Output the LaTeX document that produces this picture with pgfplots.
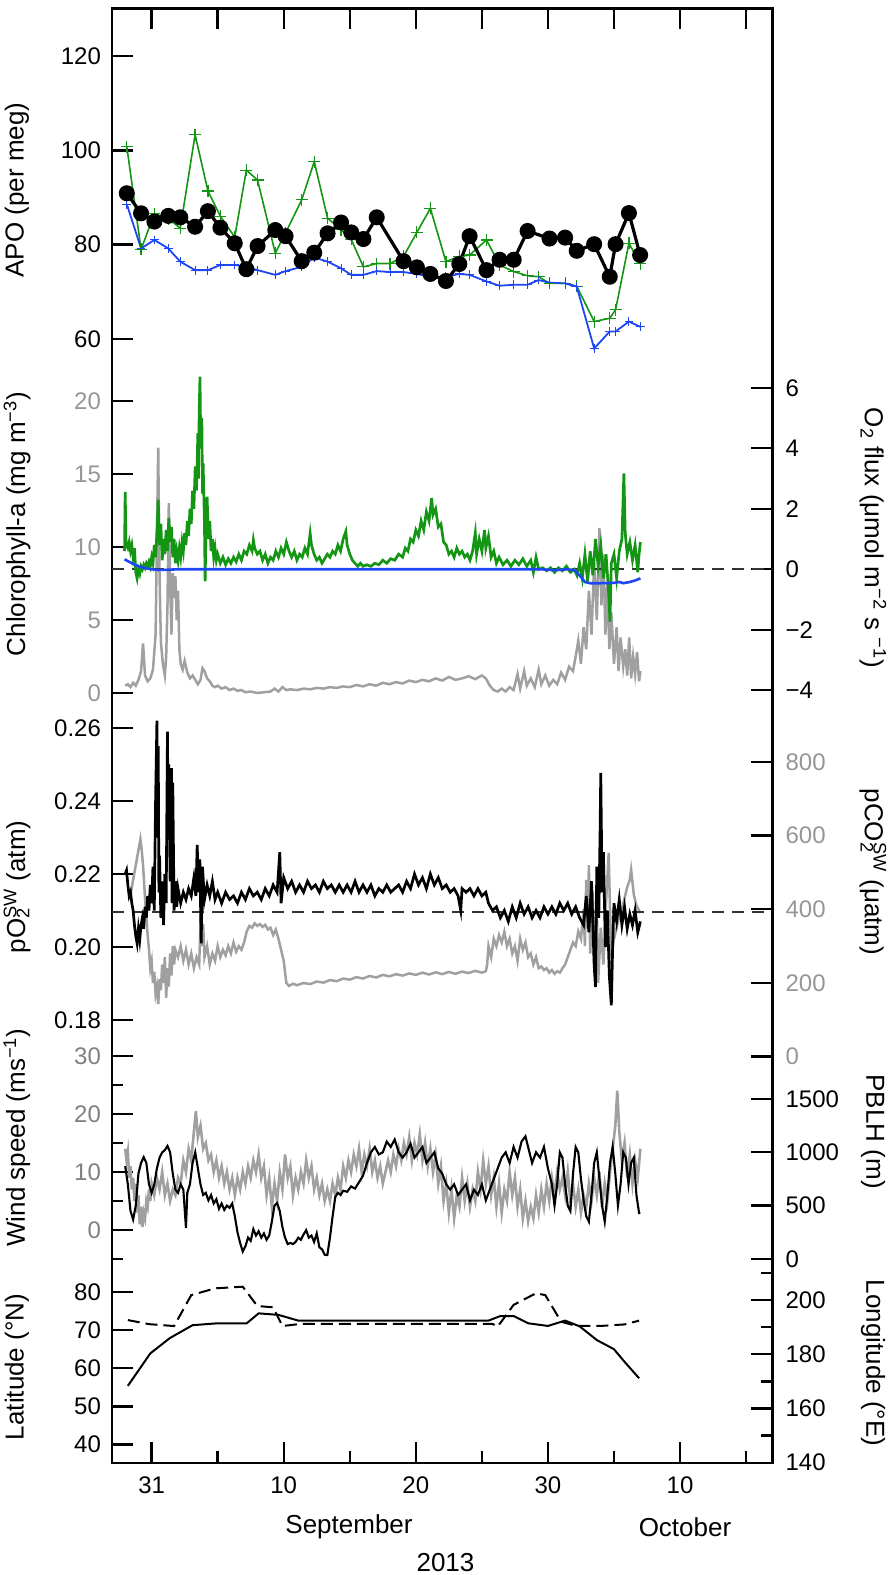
\documentclass[border=0pt]{standalone}
\usepackage{fontspec}
\setmainfont{Liberation Sans}
\usepackage{pgfplots}
\pgfplotsset{compat=1.18}
\definecolor{apogreen}{RGB}{20,150,20}
\definecolor{apoblue}{RGB}{30,70,245}
\definecolor{dgray}{RGB}{160,160,160}
\definecolor{tgray}{RGB}{150,150,150}
\newcommand\lbl{\fontsize{13}{15}\selectfont}
\newcommand\tkl{\fontsize{12}{14}\selectfont}
\pgfplotsset{
  panel/.style={scale only axis, width=330.25pt, xmin=-3, xmax=47, hide x axis, anchor=south west,
    axis line style={line width=1pt},
    tick align=inside, major tick length=10.5pt, minor tick length=5.5pt,
    tick style={line width=1.2pt, black},
    yticklabel style={font=\tkl}},
  lpanel/.style={panel, ytick pos=left, yticklabel pos=left, yticklabel style={xshift=-2pt}},
  rpanel/.style={panel, ytick pos=right, yticklabel pos=right, yticklabel style={xshift=3pt}},
}
\begin{document}
\begin{tikzpicture}
\useasboundingbox (0,0) rectangle (445.5pt,787.5pt);
% frame
\begin{axis}[scale only axis, width=330.25pt, height=727.25pt, at={(56pt,56pt)}, anchor=south west,
  xmin=-3, xmax=47, ymin=0, ymax=1, ytick=\empty,
  xtick={0,10,20,30,40}, minor xtick={5,15,25,35,45}, xticklabels={31,10,20,30,10},
  xtick pos=left, tick align=inside, major tick length=10.5pt, minor tick length=6pt,
  tick style={line width=1.2pt,black}, axis line style={line width=1.1pt},
  xticklabel style={font=\tkl, yshift=-3.5pt}]
\end{axis}
\begin{axis}[scale only axis, width=330.25pt, height=727.25pt, at={(56pt,56pt)}, anchor=south west,
  xmin=-3, xmax=47, ymin=0, ymax=1, ytick=\empty,
  xtick={0,5,...,45}, xticklabels={}, xtick pos=right, tick align=inside, major tick length=10.5pt,
  tick style={line width=1.2pt,black}, axis line style={line width=1.1pt}]
\end{axis}
% ---------- Panel 1: APO
\begin{axis}[lpanel, at={(56pt,608.55pt)}, height=174.54pt, ymin=56, ymax=130,
  ytick={60,80,100,120}, yticklabels={60,80,100,120}]
\addplot[apogreen, line width=0.8pt, mark=+, mark size=3pt, mark options={line width=0.6pt}] coordinates {
(-1.88,100.8)(-0.80,79.0)(0.21,86.6)(1.26,85.5)(2.17,83.5)(3.29,103.3)(4.26,91.4)(5.21,86)(6.29,81.6)(7.17,95.8)(8.02,93.7)(9.36,78.2)(10.14,82.5)(11.36,89.5)(12.31,97.6)(13.32,85.6)(14.34,83.2)(15.11,81.1)(16.03,75.3)(17.04,76.0)(18.05,76.0)(19.07,77.5)(20.08,82.6)(21.10,87.7)(22.28,76.4)(23.29,77.5)(24.07,77.8)(25.35,81.0)(26.34,75.7)(27.41,74.3)(28.46,73.4)(29.30,73.2)(30.12,71.8)(31.30,71.8)(32.18,71.2)(33.50,63.7)(34.68,64.4)(35.12,66.2)(36.13,80.3)(36.98,76.0)};
\addplot[apoblue, line width=0.9pt, mark=+, mark size=2.2pt, mark options={line width=0.5pt}] coordinates {
(-1.88,88.6)(-0.80,79.2)(0.21,81.0)(1.26,79.2)(2.17,76.4)(3.29,74.6)(4.26,74.6)(5.21,75.7)(6.29,75.7)(7.17,75.3)(8.02,74.6)(9.36,73.6)(10.14,74.4)(11.36,75.3)(12.31,77.3)(13.32,76.4)(14.34,75.0)(15.11,73.6)(16.03,73.6)(17.04,74.4)(18.05,74.2)(19.07,74.2)(20.08,73.8)(21.10,73.2)(22.28,73.2)(23.29,73.8)(24.07,73.6)(25.35,72.2)(26.34,71.3)(27.41,71.5)(28.46,71.5)(29.30,72.5)(30.12,71.96)(31.30,71.8)(32.18,71.1)(33.50,58.0)(34.68,61.6)(35.12,61.6)(36.13,63.7)(36.98,62.6)};
\addplot[black, line width=1.6pt, mark=*, mark size=3.2pt] coordinates {
(-1.88,90.9)(-0.80,86.65)(0.21,84.9)(1.26,86.1)(2.17,85.8)(3.29,83.8)(4.26,87.1)(5.21,83.6)(6.29,80.3)(7.17,74.8)(8.02,79.7)(9.36,83.1)(10.14,81.8)(11.36,76.5)(12.31,78.3)(13.32,82.4)(14.34,84.7)(15.11,82.6)(16.03,81.2)(17.04,85.8)(19.07,76.5)(20.08,75.2)(21.10,73.8)(22.28,72.3)(23.29,75.9)(24.07,81.8)(25.35,74.6)(26.34,76.8)(27.41,76.8)(28.46,82.9)(30.12,81.3)(31.30,81.5)(32.18,78.7)(33.50,80.1)(34.68,73.2)(35.12,80.1)(36.13,86.7)(36.98,77.8)};
\end{axis}
% ---------- Panel 2: Chlorophyll (left)
\begin{axis}[lpanel, at={(56pt,436.62pt)}, height=164.98pt, ymin=-0.6, ymax=22,
  ytick={0,5,10,15,20}, yticklabels={0,5,10,15,20}, yticklabel style={text=tgray}]
\addplot[dgray, line width=1.25pt] coordinates {
(-2.0,0.5)(-1.8,0.6)(-1.6,0.4)(-1.4,0.7)(-1.2,0.5)(-1.0,0.9)(-0.8,1.5)(-0.65,3.4)(-0.5,1.2)(-0.3,0.8)(-0.1,1.0)(0.1,1.6)(0.3,4.0)(0.42,12.0)(0.5,16.8)(0.58,9.0)(0.7,3.5)(0.85,2.0)(1.0,1.2)(1.1,2.5)(1.2,6.0)(1.3,13.0)(1.4,7.5)(1.5,4.0)(1.6,8.2)(1.7,6.5)(1.8,8.0)(1.9,5.0)(2.0,7.0)(2.1,3.0)(2.2,2.0)(2.35,1.6)(2.5,2.2)(2.7,1.4)(2.9,1.0)(3.1,1.2)(3.3,0.9)(3.5,0.6)(3.7,0.9)(3.85,1.7)(4.0,1.5)(4.2,1.0)(4.4,0.8)(4.6,0.5)(4.8,0.4)(5.0,0.5)(5.3,0.3)(5.6,0.4)(5.9,0.2)(6.2,0.3)(6.5,0.15)(6.8,0.2)(7.1,0.05)(7.5,0.1)(8.0,0.0)(8.5,0.05)(9.0,0.1)(9.3,0.3)(9.6,0.1)(9.9,0.4)(10.2,0.2)(10.5,0.25)(11,0.2)(11.5,0.3)(12,0.25)(12.5,0.35)(13,0.3)(13.5,0.4)(14,0.35)(14.5,0.45)(15,0.4)(15.5,0.55)(16,0.45)(16.5,0.6)(17,0.5)(17.5,0.7)(18,0.6)(18.5,0.75)(19,0.65)(19.5,0.85)(20,0.75)(20.5,0.9)(21,0.8)(21.5,1.0)(22,0.85)(22.5,1.1)(23,0.9)(23.5,1.0)(24,1.15)(24.5,0.95)(25,1.2)(25.3,1.0)(25.6,0.5)(25.9,0.2)(26.2,0.1)(26.5,0.3)(26.8,0.1)(27.1,0.4)(27.4,0.2)(27.7,1.3)(27.9,0.3)(28.2,1.5)(28.4,0.5)(28.7,1.0)(29.0,0.4)(29.3,1.6)(29.5,0.6)(29.8,1.2)(30.1,0.5)(30.4,0.9)(30.7,0.6)(31.0,1.4)(31.3,0.9)(31.6,1.8)(31.9,1.5)(32.1,2.5)(32.3,3.6)(32.5,2.0)(32.7,4.5)(32.9,3.0)(33.1,7.0)(33.3,4.0)(33.5,9.0)(33.7,5.0)(33.9,11.3)(34.05,6.0)(34.2,9.5)(34.35,4.0)(34.5,7.5)(34.65,3.0)(34.8,5.5)(35.0,2.0)(35.2,4.5)(35.35,1.5)(35.5,3.8)(35.7,1.8)(35.85,3.0)(36.0,1.2)(36.15,3.8)(36.3,1.0)(36.45,2.5)(36.6,1.3)(36.75,2.8)(36.9,0.8)(37.0,1.5)};
\end{axis}
% ---------- Panel 2: O2 flux (right)
\begin{axis}[rpanel, at={(56pt,433.275pt)}, height=175.45pt, ymin=-4.6, ymax=7,
  ytick={-4,-2,0,2,4,6}, yticklabels={−4,−2,0,2,4,6}]
\addplot[black!80, line width=1pt, dash pattern=on 6pt off 4pt] coordinates {(-3,0)(47,0)};
\addplot[apogreen, line width=1.35pt] coordinates {
(-2.05,0.6)(-2.0,2.56)(-1.95,1.0)(-1.9,0.8)(-1.8,0.7)(-1.7,0.9)(-1.6,0.6)(-1.5,0.8)(-1.4,0.4)(-1.3,0.7)(-1.2,-0.1)(-1.1,-0.3)(-1.0,0.0)(-0.9,-0.15)(-0.8,0.1)(-0.7,0.0)(-0.6,0.15)(-0.5,0.05)(-0.4,0.2)(-0.3,0.1)(-0.2,0.25)(-0.1,0.1)(0.0,0.4)(0.1,0.2)(0.2,0.8)(0.3,0.4)(0.4,1.2)(0.5,2.3)(0.6,0.8)(0.7,1.5)(0.8,0.3)(0.9,1.0)(1.0,0.5)(1.1,1.3)(1.2,0.6)(1.3,1.7)(1.4,0.9)(1.5,1.4)(1.6,0.4)(1.7,1.0)(1.8,0.2)(1.9,0.6)(2.0,0.3)(2.1,0.7)(2.2,0.4)(2.3,0.9)(2.4,0.6)(2.5,1.2)(2.6,0.8)(2.7,1.6)(2.8,1.1)(2.9,2.0)(3.0,1.5)(3.1,2.6)(3.2,2.0)(3.3,3.4)(3.4,2.6)(3.5,4.5)(3.55,3.0)(3.6,5.2)(3.66,6.37)(3.72,4.0)(3.8,5.0)(3.85,2.5)(3.9,3.5)(4.0,1.5)(4.05,-0.4)(4.1,1.0)(4.2,2.4)(4.3,1.0)(4.4,1.6)(4.5,0.6)(4.6,1.0)(4.7,0.4)(4.8,0.7)(4.9,0.3)(5.0,0.5)(5.2,0.2)(5.4,0.4)(5.6,0.15)(5.8,0.35)(6.0,0.2)(6.2,0.4)(6.4,0.25)(6.6,0.5)(6.8,0.3)(7.0,0.6)(7.2,0.5)(7.4,0.8)(7.6,0.6)(7.7,0.97)(7.8,0.7)(8.0,0.5)(8.2,0.6)(8.4,0.3)(8.6,0.5)(8.8,0.2)(9.0,0.4)(9.2,0.3)(9.4,0.6)(9.6,0.4)(9.8,0.7)(10.0,0.5)(10.2,0.9)(10.4,0.6)(10.6,0.4)(10.8,0.6)(11.0,0.3)(11.2,0.5)(11.4,0.4)(11.6,0.7)(11.8,0.5)(12.0,1.19)(12.1,0.8)(12.3,0.5)(12.5,0.3)(12.7,0.4)(12.9,0.2)(13.1,0.35)(13.3,0.5)(13.5,0.4)(13.7,0.6)(13.9,0.5)(14.1,0.8)(14.3,0.6)(14.5,1.0)(14.7,1.25)(14.8,0.8)(15.0,0.5)(15.2,0.3)(15.4,0.2)(15.6,0.1)(15.8,0.2)(16.0,0.1)(16.3,0.15)(16.6,0.1)(16.9,0.2)(17.2,0.15)(17.5,0.3)(17.8,0.2)(18.1,0.35)(18.4,0.3)(18.7,0.5)(19.0,0.4)(19.2,0.7)(19.4,0.6)(19.6,1.0)(19.8,0.9)(20.0,1.3)(20.2,1.1)(20.4,1.6)(20.6,1.3)(20.8,1.9)(21.0,1.6)(21.2,2.36)(21.3,1.8)(21.5,2.0)(21.7,1.4)(21.9,1.5)(22.1,0.9)(22.3,0.8)(22.5,0.5)(22.7,0.6)(22.9,0.4)(23.1,0.7)(23.3,0.5)(23.5,0.6)(23.7,0.4)(23.9,0.5)(24.1,0.3)(24.3,0.6)(24.5,1.2)(24.6,0.5)(24.8,1.0)(25.0,0.6)(25.2,1.3)(25.3,0.7)(25.5,1.1)(25.7,0.4)(25.9,0.6)(26.1,0.2)(26.3,0.4)(26.6,0.15)(26.9,0.3)(27.2,0.1)(27.5,0.3)(27.8,0.15)(28.1,0.35)(28.4,0.1)(28.7,0.3)(28.9,-0.1)(29.1,0.4)(29.3,0.0)(29.6,0.05)(29.9,-0.05)(30.2,0.05)(30.5,-0.1)(30.8,0.05)(31.1,-0.05)(31.4,0.1)(31.7,-0.1)(32.0,0.0)(32.2,-0.2)(32.4,0.2)(32.6,-0.3)(32.8,0.5)(33.0,-0.4)(33.2,0.6)(33.4,-0.2)(33.6,1.0)(33.8,0.1)(34.0,0.8)(34.2,-0.3)(34.4,0.5)(34.6,-0.8)(34.7,-1.73)(34.8,0.2)(35.0,0.5)(35.2,-0.3)(35.4,0.6)(35.6,1.0)(35.75,3.17)(35.85,1.2)(36.0,0.5)(36.2,0.9)(36.4,0.3)(36.6,0.8)(36.8,-0.1)(36.9,0.5)(37.0,0.9)};
\addplot[apoblue, line width=1.3pt] coordinates {
(-2.05,0.33)(-1.5,0.2)(-1.0,0.1)(-0.5,0.04)(0.0,0.0)(0.5,-0.02)(1.0,-0.02)(2.0,0.0)(10,0.0)(20,0.0)(29.5,0.0)(30.5,-0.03)(31.5,0.0)(32.0,-0.03)(32.4,-0.2)(32.8,-0.42)(33.2,-0.46)(34,-0.46)(35,-0.45)(35.4,-0.42)(35.7,-0.46)(36.2,-0.42)(36.6,-0.37)(37.0,-0.3)};
\end{axis}
% ---------- Panel 3: pCO2 (right)
\begin{axis}[rpanel, at={(56pt,255.465pt)}, height=162.14pt, ymin=-20, ymax=860,
  ytick={0,200,400,600,800}, yticklabels={0,200,400,600,800}, yticklabel style={text=tgray}]
\addplot[dgray, line width=1.25pt] coordinates {
(-1.6,440)(-1.4,480)(-1.2,520)(-1.0,560)(-0.85,590)(-0.75,560)(-0.65,520)(-0.5,430)(-0.4,380)(-0.3,330)(-0.2,290)(-0.1,240)(0.0,260)(0.1,200)(0.2,230)(0.3,170)(0.4,190)(0.5,143)(0.6,210)(0.7,180)(0.8,250)(0.9,200)(1.0,270)(1.1,160)(1.2,240)(1.3,190)(1.4,280)(1.5,220)(1.6,300)(1.7,250)(1.8,290)(2.0,270)(2.2,300)(2.4,260)(2.6,290)(2.8,250)(3.0,280)(3.2,240)(3.4,270)(3.6,250)(3.75,420)(3.8,300)(3.9,360)(4.0,270)(4.2,300)(4.4,250)(4.6,280)(4.8,260)(5.0,300)(5.2,270)(5.4,290)(5.6,275)(5.8,300)(6.0,280)(6.2,310)(6.4,285)(6.6,300)(6.8,290)(7.0,310)(7.2,340)(7.4,355)(7.6,350)(7.8,362)(8.0,355)(8.2,360)(8.4,352)(8.6,358)(8.8,345)(9.0,350)(9.2,330)(9.4,345)(9.6,320)(9.8,290)(10.0,260)(10.1,230)(10.2,200)(10.4,192)(10.7,198)(11,194)(11.5,200)(12,197)(12.5,204)(13,201)(13.5,208)(14,205)(14.5,212)(15,209)(15.5,216)(16,212)(16.5,219)(17,215)(17.5,222)(18,218)(18.5,224)(19,220)(19.5,226)(20,222)(20.5,228)(21,223)(21.5,229)(22,224)(22.5,230)(23,225)(23.5,231)(24,227)(24.5,233)(25,228)(25.3,232)(25.4,250)(25.5,300)(25.7,270)(25.9,320)(26.1,300)(26.3,330)(26.5,310)(26.7,339)(26.9,300)(27.1,320)(27.3,280)(27.5,300)(27.7,260)(27.9,320)(28.1,290)(28.3,310)(28.5,270)(28.7,280)(28.9,250)(29.1,270)(29.3,240)(29.5,245)(29.7,235)(29.9,240)(30.1,228)(30.3,235)(30.5,225)(30.7,232)(30.9,228)(31.1,240)(31.3,250)(31.5,270)(31.7,290)(31.9,310)(32.1,300)(32.3,340)(32.5,320)(32.7,400)(32.8,300)(32.9,480)(33.0,350)(33.1,520)(33.2,280)(33.4,450)(33.5,250)(33.7,400)(33.8,200)(34.0,350)(34.2,250)(34.4,420)(34.6,553)(34.7,400)(34.8,280)(35.0,320)(35.2,350)(35.4,380)(35.6,400)(35.8,430)(36.0,460)(36.2,480)(36.3,507)(36.5,440)(36.7,410)(37.0,390)};
\end{axis}
% ---------- Panel 3: pO2 (left)
\begin{axis}[lpanel, at={(56pt,268.375pt)}, height=166.075pt, ymin=0.175, ymax=0.266,
  ytick={0.18,0.20,0.22,0.24,0.26}, yticklabels={0.18,0.20,0.22,0.24,0.26}]
\addplot[black!80, line width=1pt, dash pattern=on 6pt off 4pt] coordinates {(-3,0.2095)(47,0.2095)};
\addplot[black, line width=1.35pt] coordinates {
(-2.0,0.220)(-1.9,0.221)(-1.8,0.217)(-1.7,0.214)(-1.6,0.215)(-1.5,0.212)(-1.4,0.210)(-1.3,0.206)(-1.2,0.203)(-1.1,0.201)(-1.0,0.205)(-0.9,0.202)(-0.8,0.206)(-0.7,0.208)(-0.6,0.205)(-0.5,0.211)(-0.4,0.208)(-0.3,0.214)(-0.2,0.210)(-0.1,0.217)(0.0,0.212)(0.1,0.222)(0.2,0.210)(0.3,0.240)(0.4,0.262)(0.45,0.230)(0.5,0.255)(0.55,0.215)(0.6,0.225)(0.7,0.208)(0.8,0.218)(0.9,0.206)(1.0,0.220)(1.1,0.212)(1.2,0.259)(1.25,0.230)(1.3,0.250)(1.4,0.218)(1.5,0.249)(1.55,0.212)(1.6,0.245)(1.7,0.210)(1.8,0.218)(1.9,0.211)(2.0,0.216)(2.2,0.212)(2.4,0.215)(2.6,0.213)(2.8,0.216)(3.0,0.214)(3.2,0.219)(3.35,0.214)(3.45,0.228)(3.55,0.215)(3.65,0.224)(3.75,0.201)(3.85,0.222)(4.0,0.213)(4.2,0.217)(4.4,0.214)(4.6,0.218)(4.8,0.213)(5.0,0.215)(5.3,0.212)(5.6,0.215)(5.9,0.213)(6.2,0.214)(6.5,0.212)(6.8,0.215)(7.1,0.213)(7.4,0.216)(7.7,0.214)(8.0,0.215)(8.3,0.213)(8.6,0.216)(8.9,0.214)(9.2,0.217)(9.5,0.215)(9.7,0.226)(9.8,0.212)(10.0,0.219)(10.3,0.216)(10.6,0.218)(10.9,0.215)(11.2,0.217)(11.5,0.215)(11.8,0.218)(12.1,0.216)(12.4,0.217)(12.7,0.215)(13.0,0.218)(13.3,0.216)(13.6,0.217)(13.9,0.215)(14.2,0.217)(14.5,0.215)(14.8,0.217)(15.1,0.215)(15.4,0.218)(15.7,0.215)(16.0,0.217)(16.3,0.215)(16.6,0.217)(16.9,0.214)(17.2,0.216)(17.5,0.215)(17.8,0.217)(18.1,0.215)(18.4,0.216)(18.7,0.217)(19.0,0.215)(19.3,0.218)(19.6,0.216)(19.9,0.220)(20.2,0.217)(20.5,0.219)(20.8,0.216)(21.1,0.220)(21.4,0.217)(21.7,0.219)(22.0,0.216)(22.3,0.217)(22.6,0.215)(22.9,0.216)(23.2,0.214)(23.4,0.210)(23.5,0.216)(23.8,0.215)(24.1,0.216)(24.4,0.214)(24.7,0.216)(25.0,0.214)(25.3,0.215)(25.5,0.212)(25.8,0.210)(26.1,0.211)(26.4,0.208)(26.7,0.210)(27.0,0.207)(27.3,0.211)(27.6,0.208)(27.9,0.212)(28.2,0.209)(28.5,0.211)(28.8,0.208)(29.1,0.210)(29.4,0.208)(29.7,0.211)(30.0,0.209)(30.3,0.211)(30.6,0.209)(30.9,0.212)(31.2,0.210)(31.5,0.212)(31.8,0.209)(32.1,0.211)(32.4,0.208)(32.7,0.206)(32.9,0.214)(33.1,0.204)(33.3,0.218)(33.5,0.195)(33.6,0.189)(33.7,0.222)(33.85,0.208)(33.95,0.232)(34.0,0.2477)(34.1,0.215)(34.2,0.226)(34.35,0.200)(34.5,0.210)(34.65,0.192)(34.8,0.184)(34.9,0.200)(35.0,0.212)(35.2,0.207)(35.4,0.213)(35.6,0.206)(35.8,0.211)(36.0,0.205)(36.2,0.209)(36.4,0.206)(36.6,0.210)(36.8,0.204)(37.0,0.207)};
\end{axis}
% ---------- Panel 4: wind (left)
\begin{axis}[lpanel, at={(56pt,152.2pt)}, height=110.2pt, ymin=-7, ymax=31,
  ytick={0,10,20,30}, yticklabels={0,10,20,30}, minor ytick={-5,5,15,25}, yticklabel style={text=tgray!85!black}]
\addplot[dgray, line width=1.3pt] coordinates {
(-2.0,14)(-1.9,12)(-1.8,13.5)(-1.7,9)(-1.6,11)(-1.5,7)(-1.4,9)(-1.3,5)(-1.2,8)(-1.1,3)(-1.0,6)(-0.9,1)(-0.8,4)(-0.7,0.5)(-0.6,3)(-0.5,2)(-0.4,5)(-0.3,4)(-0.2,7)(-0.1,5)(0.0,8)(0.2,6)(0.4,9)(0.6,7)(0.8,10)(1.0,6)(1.2,8)(1.4,5)(1.6,7)(1.8,6)(2.0,9)(2.2,8)(2.4,12)(2.6,10)(2.8,14)(3.0,12)(3.2,17)(3.35,20.5)(3.5,16)(3.7,18)(3.9,14)(4.1,15)(4.3,12)(4.5,13)(4.7,10)(4.9,12)(5.1,9)(5.3,11)(5.5,8)(5.7,10)(5.9,7)(6.1,9)(6.3,6)(6.5,9)(6.7,7)(6.9,10)(7.1,8)(7.3,11)(7.5,9)(7.7,12)(7.9,10)(8.1,13)(8.3,9)(8.5,11)(8.7,6)(8.9,9)(9.1,4)(9.3,8)(9.5,5)(9.7,10)(9.9,7)(10.1,13)(10.3,9)(10.5,11)(10.7,6)(10.9,9)(11.1,7)(11.3,10)(11.5,8)(11.7,12)(11.9,9)(12.1,11)(12.3,7)(12.5,9)(12.7,6)(12.9,8)(13.1,5)(13.3,7)(13.5,5)(13.7,8)(13.9,6)(14.1,9)(14.3,7)(14.5,11)(14.7,9)(14.9,12)(15.1,10)(15.3,13)(15.5,11)(15.7,14)(15.9,10)(16.1,13)(16.3,11)(16.5,14)(16.7,10)(16.9,12)(17.1,9)(17.3,11)(17.5,8)(17.7,10)(17.9,12)(18.1,10)(18.3,13)(18.5,11)(18.7,14)(18.9,12)(19.1,15)(19.3,13)(19.5,16)(19.7,12)(19.9,15)(20.1,13)(20.3,16.5)(20.5,12)(20.7,15)(20.9,11)(21.1,14)(21.3,10)(21.5,13)(21.7,8)(21.9,11)(22.1,5)(22.3,8)(22.5,3)(22.7,7)(22.9,2)(23.1,6)(23.3,4)(23.5,9)(23.7,5)(23.9,8)(24.1,4)(24.3,7)(24.5,5)(24.7,10)(24.9,7)(25.1,12)(25.3,8)(25.5,11)(25.7,6)(25.9,9)(26.1,4)(26.3,8)(26.5,3)(26.7,7)(26.9,5)(27.1,10)(27.3,6)(27.5,9)(27.7,4)(27.9,7)(28.1,2)(28.3,5)(28.5,1.5)(28.7,4)(28.9,2)(29.1,6)(29.3,3)(29.5,7)(29.7,4)(29.9,8)(30.1,5)(30.3,9)(30.5,6)(30.7,10)(30.9,7)(31.1,9)(31.3,6)(31.5,10)(31.7,5)(31.9,8)(32.1,4)(32.3,7)(32.5,3)(32.7,6)(32.9,4)(33.1,8)(33.3,5)(33.5,9)(33.7,6)(33.9,10)(34.1,4)(34.3,8)(34.5,5)(34.7,10)(34.9,14)(35.1,18)(35.25,24)(35.4,17)(35.6,12)(35.8,15)(36.0,9)(36.2,13)(36.4,8)(36.6,12)(36.8,9)(37.0,14)};
\end{axis}
% ---------- Panel 4: PBLH (right)
\begin{axis}[rpanel, at={(56pt,152.665pt)}, height=93.36pt, ymin=-100, ymax=1650,
  ytick={0,500,1000,1500}, yticklabels={0,500,1000,1500}]
\addplot[black, line width=1.05pt] coordinates {
(-2.0,870)(-1.8,700)(-1.6,450)(-1.4,370)(-1.2,500)(-1.0,800)(-0.8,900)(-0.6,955)(-0.4,900)(-0.2,700)(0.0,620)(0.2,700)(0.4,850)(0.6,950)(0.8,1000)(1.0,1020)(1.2,1060)(1.4,1000)(1.6,800)(1.8,650)(2.0,620)(2.2,700)(2.4,650)(2.6,290)(2.7,620)(2.9,700)(3.1,900)(3.3,1000)(3.5,850)(3.7,700)(3.9,600)(4.1,620)(4.3,550)(4.5,600)(4.7,520)(4.9,560)(5.1,470)(5.3,520)(5.5,460)(5.7,500)(5.9,480)(6.1,520)(6.3,400)(6.5,250)(6.7,150)(6.9,70)(7.1,120)(7.3,200)(7.5,170)(7.7,280)(7.9,220)(8.1,260)(8.3,200)(8.5,240)(8.7,180)(8.9,220)(9.1,350)(9.3,500)(9.5,525)(9.7,450)(9.9,300)(10.1,200)(10.3,140)(10.5,150)(10.7,140)(10.9,160)(11.1,200)(11.3,180)(11.5,230)(11.7,270)(11.9,200)(12.1,220)(12.3,160)(12.5,240)(12.7,110)(12.9,90)(13.1,40)(13.3,37)(13.5,200)(13.7,400)(13.9,580)(14.1,620)(14.3,600)(14.5,640)(14.8,630)(15.1,680)(15.4,660)(15.7,720)(16.0,780)(16.3,900)(16.6,1000)(16.9,1050)(17.2,980)(17.5,1000)(17.8,1100)(18.1,1050)(18.4,1120)(18.7,1000)(19.0,950)(19.3,1000)(19.6,1080)(19.9,950)(20.2,1000)(20.5,1050)(20.8,900)(21.1,950)(21.4,1000)(21.7,850)(22.0,800)(22.3,700)(22.6,650)(22.9,700)(23.2,600)(23.5,650)(23.8,700)(24.1,550)(24.4,650)(24.7,600)(25.0,700)(25.3,550)(25.6,650)(25.9,750)(26.2,850)(26.5,950)(26.8,1000)(27.1,900)(27.4,1050)(27.7,950)(28.0,1100)(28.3,1150)(28.5,1050)(28.8,900)(29.1,1000)(29.4,950)(29.7,1050)(30.0,850)(30.3,700)(30.5,500)(30.7,700)(30.9,1000)(31.1,950)(31.3,700)(31.5,500)(31.7,450)(31.9,800)(32.1,1050)(32.3,1000)(32.5,750)(32.7,550)(32.9,400)(33.1,350)(33.3,600)(33.5,900)(33.7,1000)(33.9,750)(34.1,500)(34.3,350)(34.5,600)(34.7,900)(34.9,1050)(35.1,800)(35.3,500)(35.5,700)(35.7,1000)(35.9,950)(36.1,700)(36.3,900)(36.5,950)(36.7,600)(36.9,430)(37.0,430)};
\end{axis}
% ---------- Panel 5: latitude (left)
\begin{axis}[lpanel, at={(56pt,55.855pt)}, height=91.37pt, ymin=35.1, ymax=83,
  ytick={40,50,60,70,80}, yticklabels={40,50,60,70,80}]
\addplot[black, line width=1pt] coordinates {
(-1.8,55.4)(-0.1,63.9)(1.37,67.9)(3.1,71.3)(5.0,71.8)(7.2,71.8)(8.1,74.4)(9.6,74.0)(11.1,72.5)(25.5,72.5)(26.4,73.7)(27.4,73.7)(28.5,71.8)(30.0,71.1)(31.3,72.5)(32.4,71.0)(33.7,67.4)(35.0,65.0)(35.8,61.7)(36.9,57.4)};
\end{axis}
% ---------- Panel 5: longitude (right)
\begin{axis}[rpanel, at={(56pt,56.14pt)}, height=101.7pt, ymin=140, ymax=215,
  ytick={140,160,180,200}, yticklabels={140,160,180,200}, minor ytick={150,170,190,210}]
\addplot[black, line width=1pt, dash pattern=on 6pt off 3pt] coordinates {
(-1.8,192.6)(-0.2,191.1)(1.7,190.4)(3.0,201.8)(4.8,204.3)(6.9,204.9)(8.0,197.8)(9.2,197.3)(9.9,190.4)(11.3,191.2)(25.8,191.2)(26.2,190.2)(27.4,198.2)(29.1,202.5)(29.8,201.8)(31.0,192.0)(32.1,190.5)(34.2,190.5)(35.8,191.0)(36.9,192.4)};
\end{axis}
% ---------- labels
\node[rotate=90, font=\lbl] at (8.5pt,692.5pt) {APO (per meg)};
\node[rotate=90, font=\lbl] at (8.5pt,525.5pt) {Chlorophyll-a (mg m\textsuperscript{−3})};
\node[rotate=90, font=\lbl] at (8.5pt,344pt) {pO\rlap{\textsubscript{2}}\textsuperscript{SW} (atm)};
\node[rotate=90, font=\lbl] at (8.5pt,218.75pt) {Wind speed (ms\textsuperscript{−1})};
\node[rotate=90, font=\lbl] at (8.5pt,104pt) {Latitude (°N)};
\node[rotate=-90, font=\lbl] at (436.5pt,518.5pt) {O\textsubscript{2} flux (μmol m\textsuperscript{−2} s \textsuperscript{−1})};
\node[rotate=-90, font=\lbl] at (436.5pt,351.5pt) {pCO\rlap{\textsubscript{2}}\textsuperscript{SW} (μatm)};
\node[rotate=-90, font=\lbl] at (436.5pt,221.65pt) {PBLH (m)};
\node[rotate=-90, font=\lbl] at (436.5pt,106pt) {Longitude (°E)};
\node[font=\lbl] at (174.5pt,24pt) {September};
\node[font=\lbl] at (342.5pt,24pt) {October};
\node[font=\lbl] at (222.75pt,6pt) {2013};
\end{tikzpicture}
\end{document}
